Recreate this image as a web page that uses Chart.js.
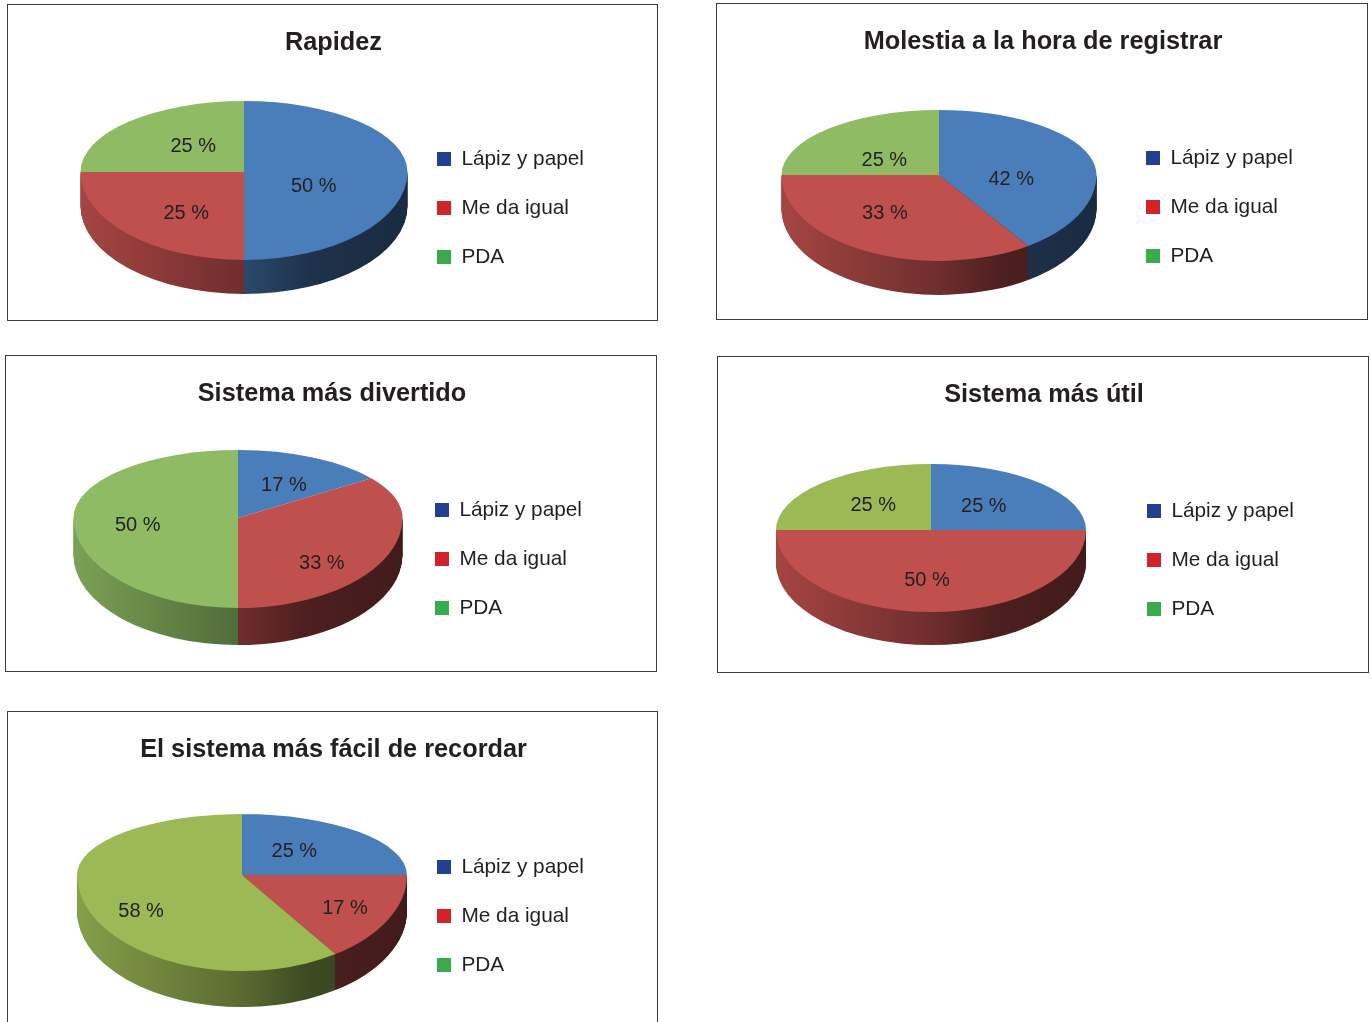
<!DOCTYPE html>
<html>
<head>
<meta charset="utf-8">
<title>Encuesta</title>
<script src="https://cdn.jsdelivr.net/npm/chart.js@4/dist/chart.umd.min.js"></script>
<style>
  html, body { margin: 0; padding: 0; background: #fff; overflow: hidden; width: 1371px; height: 1022px; }
  canvas { position: absolute; outline: 1px solid #3c3c3c; outline-offset: -1px; }
</style>
</head>
<body>
<script>
// data
const categories = ['Lápiz y papel', 'Me da igual', 'PDA'];
const titles = ['Rapidez', 'Molestia a la hora de registrar', 'Sistema más divertido', 'Sistema más útil', 'El sistema más fácil de recordar'];
const rapidez = [50, 25, 25];
const molestia = [42, 33, 25];
const divertido = [17, 33, 50];
const util = [25, 50, 25];
const recordar = [25, 17, 58];
const series = [rapidez, molestia, divertido, util, recordar];

// colours
const pieBlue = '#4a7ebb', pieRed = '#c0504d';
const pieGreens = ['#8ebb63', '#8ebb63', '#8ebb63', '#9bb955', '#9bb955'];
const legendColors = ['#233f8f', '#d2232a', '#3aaa4f'];
const textColor = '#231f20';
const fontName = '"Liberation Sans", Arial, sans-serif';

// where each panel sits, page coordinates
// box: panel left, top, w, h. pie: cx, cy, rx, rise above cy, drop below cy, wall depth
const boxes = [[7, 4, 651, 317], [716, 3, 652, 317], [5, 355, 652, 317], [717, 356, 652, 317], [7, 711, 651, 400]];
const pies = [
  [244, 172, 163.5, 71, 88, 34],
  [939, 175, 157.5, 65, 86, 34],
  [238, 518, 164.5, 68, 90, 37],
  [931, 530, 155, 66, 82, 33],
  [242, 875, 165, 61, 96, 36]
];
const legendSpots = [[437, 159], [1146, 158], [435, 510], [1147, 511], [437, 867]];
const labelNudges = [
  [[-12, 13], [0, 9], [7, -2]],
  [[-4, 11], [-14, 0], [1, 7]],
  [[4, -5], [13, 21], [-18, 6]],
  [[-2, -2], [-4, 8], [-3, -3]],
  [[-6, -3], [32, 8], [-21, 23]]
];

const legendFont = 20.8;
const legendGap = 49 - legendFont;
const labelDrop = 1.5;
// the tilted view squeezes far slices and widens near ones
const farSqueeze = 0.76, nearStretch = 1.25;

function shade(hex, f) {
  const n = parseInt(hex.slice(1), 16);
  return 'rgb(' + [(n >> 16) & 255, (n >> 8) & 255, n & 255].map(v => Math.round(v * f)).join(',') + ')';
}

function tiltAngle(ang) {
  const y = Math.sin(ang);
  let out = Math.atan2(y, Math.cos(ang) * (y < 0 ? farSqueeze : nearStretch));
  while (out - ang > Math.PI) out -= 2 * Math.PI;
  while (ang - out > Math.PI) out += 2 * Math.PI;
  return out;
}

function tiltedArc(a, color) {
  const start = tiltAngle(a.startAngle), end = tiltAngle(a.endAngle);
  return new Chart.ArcElement({
    x: a.x, y: a.y, startAngle: start, endAngle: end,
    innerRadius: a.innerRadius, outerRadius: a.outerRadius, circumference: end - start,
    options: Object.assign({}, a.options, { backgroundColor: color })
  });
}

// pie squashed into an ellipse with a wall under it, all from the library's arcs
const pie3d = {
  id: 'pie3d',
  afterLayout(chart, args, opts) {
    const lg = chart.legend;
    lg.left = opts.legend[0] - opts.box[0] - legendGap;
    lg.top = opts.legend[1] - opts.box[1] - legendFont / 2 - legendGap;
    lg.bottom = lg.top + 260;
  },
  beforeDatasetDraw(chart, args, opts) {
    const ctx = chart.ctx;
    const arcs = chart.getDatasetMeta(0).data;
    const [cx0, cy0, rx, up, down, depth] = opts.pie;
    const cx = cx0 - opts.box[0], cy = cy0 - opts.box[1];
    const R = arcs[0].outerRadius, ax = arcs[0].x, ay = arcs[0].y;

    function place(sy, off) {
      ctx.translate(cx, cy + off);
      ctx.scale(rx / R, sy / R);
      ctx.translate(-ax, -ay);
    }

    // wall
    for (let d = depth; d >= 1; d--) {
      ctx.save();
      ctx.beginPath();
      ctx.rect(0, cy + d, chart.width, chart.height);
      ctx.clip();
      place(down, d);
      arcs.forEach(a => {
        const g = ctx.createLinearGradient(ax - R, 0, ax + R, 0);
        const base = a.options.backgroundColor;
        g.addColorStop(0, shade(base, 0.86));
        g.addColorStop(0.5, shade(base, 0.58));
        g.addColorStop(0.7, shade(base, 0.4));
        g.addColorStop(1, shade(base, 0.34));
        tiltedArc(a, g).draw(ctx);
      });
      ctx.restore();
    }

    // top face, upper and lower half
    ctx.save();
    ctx.beginPath();
    ctx.rect(0, 0, chart.width, cy + 0.5);
    ctx.clip();
    place(up, 0);
    arcs.forEach(a => tiltedArc(a, a.options.backgroundColor).draw(ctx));
    ctx.restore();

    ctx.save();
    ctx.beginPath();
    ctx.rect(0, cy, chart.width, chart.height);
    ctx.clip();
    place(down, 0);
    arcs.forEach(a => tiltedArc(a, a.options.backgroundColor).draw(ctx));
    ctx.restore();
    return false;
  },
  afterDatasetsDraw(chart, args, opts) {
    const ctx = chart.ctx;
    const arcs = chart.getDatasetMeta(0).data;
    const [cx0, cy0, rx, up, down] = opts.pie;
    const cx = cx0 - opts.box[0], cy = cy0 - opts.box[1];
    ctx.save();
    ctx.font = '20px ' + fontName;
    ctx.fillStyle = textColor;
    ctx.textAlign = 'center';
    ctx.textBaseline = 'middle';
    arcs.forEach((a, i) => {
      const c = a.getCenterPoint();
      const dy = (c.y - a.y) / a.outerRadius;
      const x = cx + (c.x - a.x) / a.outerRadius * rx + opts.nudges[i][0];
      const y = cy + dy * (dy < 0 ? up : down) + opts.nudges[i][1] + labelDrop;
      ctx.fillText(chart.data.datasets[0].data[i] + ' %', x, y);
    });
    ctx.restore();
  }
};

series.forEach(function (values, i) {
  const box = boxes[i];
  const cv = document.createElement('canvas');
  cv.width = box[2];
  cv.height = box[3];
  cv.style.left = box[0] + 'px';
  cv.style.top = box[1] + 'px';
  document.body.appendChild(cv);

  new Chart(cv, {
    type: 'pie',
    plugins: [pie3d],
    data: {
      labels: categories,
      datasets: [{
        data: values,
        backgroundColor: [pieBlue, pieRed, pieGreens[i]],
        borderWidth: 0
      }]
    },
    options: {
      responsive: false,
      animation: false,
      layout: { padding: { left: 2 } },
      plugins: {
        pie3d: { box: box, pie: pies[i], legend: legendSpots[i], nudges: labelNudges[i] },
        tooltip: { enabled: false },
        title: {
          display: true,
          text: titles[i],
          color: textColor,
          font: { family: fontName, size: 25.3, weight: 'bold' },
          padding: { top: 24, bottom: 10 }
        },
        legend: {
          position: 'right',
          align: 'start',
          labels: {
            boxWidth: 14,
            boxHeight: 14,
            padding: legendGap,
            color: textColor,
            font: { family: fontName, size: legendFont },
            generateLabels: () => categories.map((text, k) => ({
              text: text,
              fillStyle: legendColors[k],
              strokeStyle: legendColors[k],
              lineWidth: 0,
              fontColor: textColor,
              hidden: false,
              index: k
            }))
          }
        }
      }
    }
  });
});
</script>
</body>
</html>
